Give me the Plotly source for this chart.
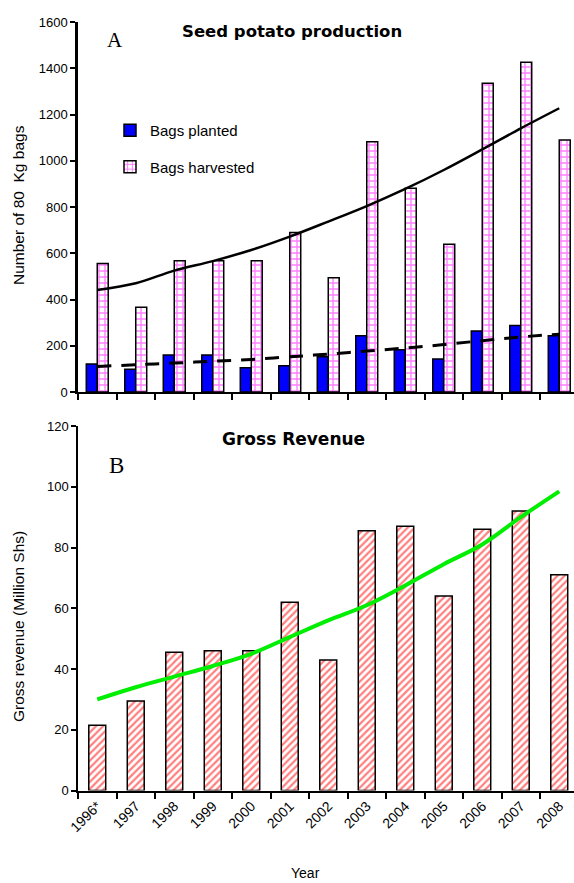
import plotly.graph_objects as go

years = ["1996*", "1997", "1998", "1999", "2000", "2001", "2002",
         "2003", "2004", "2005", "2006", "2007", "2008"]
bags_planted = [121, 98, 160, 160, 105, 114, 152, 243, 183, 143, 264, 288, 243]
bags_harvested = [556, 366, 568, 568, 568, 690, 494, 1082, 881, 639, 1335, 1426, 1090]
harvest_trend = [441, 470, 525, 566, 614, 672, 737, 804, 878, 960, 1049, 1140, 1227]
planted_trend = [110, 118, 125, 133, 141, 152, 164, 177, 190, 205, 222, 238, 250]
gross_revenue = [21.5, 29.5, 45.5, 46, 46, 62, 43, 85.5, 87, 64, 86, 92, 71]
revenue_trend = [30, 34, 37.5, 41, 45, 50.5, 56, 61, 67.5, 74.5, 81, 90, 98.5]
top_yticks = [0, 200, 400, 600, 800, 1000, 1200, 1400, 1600]
bot_yticks = [0, 20, 40, 60, 80, 100, 120]

W, H = 574, 883
TICKFONT = dict(family="Arial", size=13, color="black")

fig = go.Figure()

fig.add_trace(go.Bar(
    x=years, y=bags_planted, name="Bags planted", xaxis="x", yaxis="y",
    marker=dict(color="#0000FF", line=dict(color="black", width=1.5)),
    legendgroup="a"))
fig.add_trace(go.Bar(
    x=years, y=bags_harvested, name="Bags harvested", xaxis="x", yaxis="y",
    marker=dict(color="white", line=dict(color="black", width=1.5),
                pattern=dict(shape="+", fgcolor="#FF00FF", bgcolor="white",
                             size=6, solidity=0.4)),
    legendgroup="b"))
fig.add_trace(go.Scatter(
    x=years, y=harvest_trend, mode="lines", xaxis="x", yaxis="y",
    line=dict(color="black", width=2.5, shape="spline"), showlegend=False))
fig.add_trace(go.Scatter(
    x=years, y=planted_trend, mode="lines", xaxis="x", yaxis="y",
    line=dict(color="black", width=3, shape="spline", dash="14px,10px"),
    showlegend=False))

fig.add_trace(go.Bar(
    x=years, y=gross_revenue, xaxis="x2", yaxis="y2", width=0.44,
    marker=dict(color="white", line=dict(color="black", width=1.5),
                pattern=dict(shape="/", fgcolor="#FF0000", bgcolor="white",
                             size=5, solidity=0.45)),
    showlegend=False))
fig.add_trace(go.Scatter(
    x=years, y=revenue_trend, mode="lines", xaxis="x2", yaxis="y2",
    line=dict(color="#00EE00", width=4, shape="spline"), showlegend=False))

x0 = 78 / W
xr = [-0.5, -0.5 + (W - 78) / 38.5]

def ydom(top_px, bot_px):
    return [1 - bot_px / H, 1 - top_px / H]

def px(xp, yp):
    return dict(x=xp / W, y=1 - yp / H, xref="paper", yref="paper",
                showarrow=False, xanchor="center", yanchor="middle")

axis_common = dict(showline=True, linecolor="black", ticks="outside",
                   tickcolor="black", showgrid=False, zeroline=False,
                   automargin=False, tickfont=TICKFONT)

fig.update_layout(
    width=W, height=H, margin=dict(l=0, r=0, t=0, b=0),
    paper_bgcolor="white", plot_bgcolor="white",
    barmode="group", bargap=0.43, bargroupgap=0,
    showlegend=True,
    legend=dict(x=110 / W, y=1 - 114 / H, xanchor="left", yanchor="top",
                font=dict(family="Arial", size=15, color="black"),
                tracegroupgap=14, bgcolor="rgba(0,0,0,0)", itemwidth=30),
    xaxis=dict(domain=[x0, 1], anchor="y", type="category", range=xr,
               tickson="boundaries", ticklen=6, linewidth=2, tickwidth=1.5,
               showticklabels=False, **axis_common),
    yaxis=dict(domain=ydom(22, 392), anchor="x", range=[0, 1600],
               tickvals=top_yticks, ticklen=5, linewidth=2.5, tickwidth=1.5,
               **axis_common),
    xaxis2=dict(domain=[x0, 1], anchor="y2", type="category", range=xr,
                tickson="boundaries", ticklen=6, linewidth=2, tickwidth=1.5,
                tickangle=-45, **{**axis_common,
                                  "tickfont": dict(family="Arial", size=14, color="black")}),
    yaxis2=dict(domain=ydom(426, 790.5), anchor="x2", range=[0, 120],
                tickvals=bot_yticks, ticklen=5, linewidth=1.5, tickwidth=1.5,
                **axis_common),
    annotations=[
        dict(text="<b>Seed potato production</b>", **px(292, 32),
             font=dict(family="DejaVu Sans", size=16.5, color="black")),
        dict(text="A", **px(115, 40),
             font=dict(family="Liberation Serif", size=21, color="black")),
        dict(text="<b>Gross Revenue</b>", **px(293, 439),
             font=dict(family="DejaVu Sans", size=17, color="black")),
        dict(text="B", **px(116, 465),
             font=dict(family="Liberation Serif", size=23, color="black")),
        dict(text="Number of 80  Kg bags", **px(18, 205), textangle=-90,
             font=dict(family="Arial", size=15.5, color="black")),
        dict(text="Gross revenue (Million Shs)", **px(18, 627), textangle=-90,
             font=dict(family="Arial", size=15.5, color="black")),
        dict(text="Year", **px(305, 873),
             font=dict(family="Arial", size=14, color="black")),
    ],
)

fig.write_html("out.html", config={"displayModeBar": False},
               post_script="document.body.style.margin='0';document.body.style.overflow='hidden';")
